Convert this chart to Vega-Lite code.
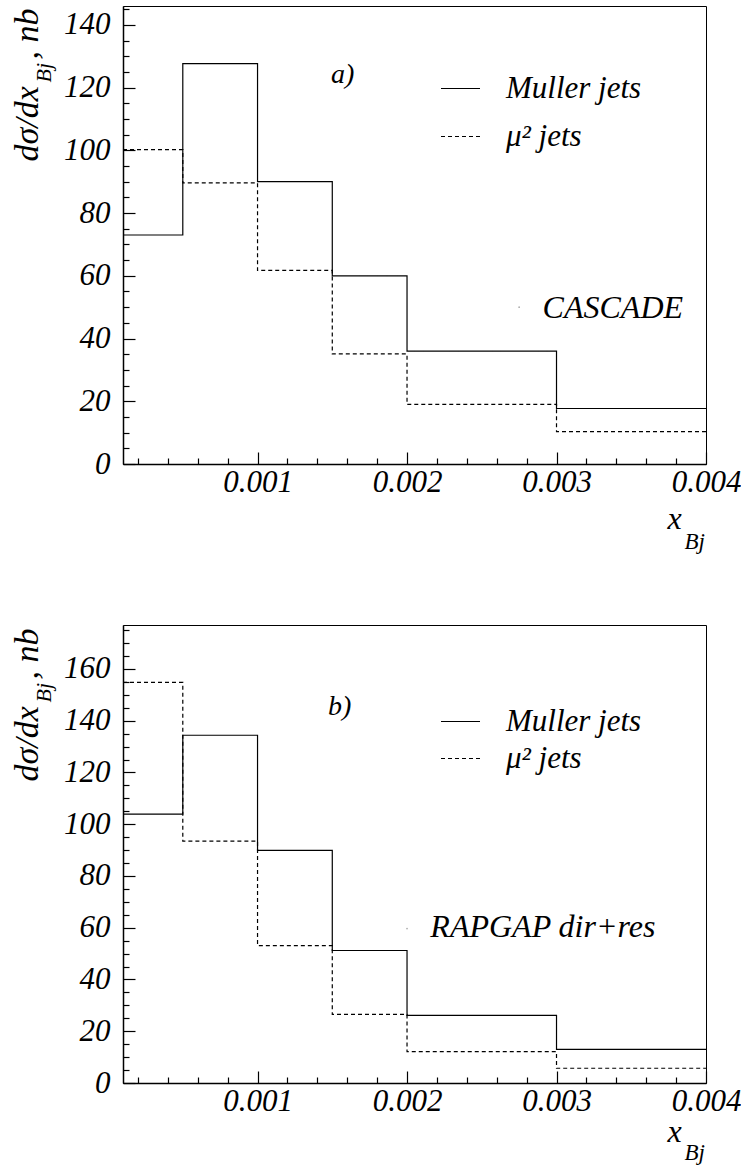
{
  "$schema": "https://vega.github.io/schema/vega-lite/v6.json",
  "padding": {"left": 9, "top": 5, "right": 2, "bottom": 2},
  "background": "white",
  "config": {
    "view": {"stroke": "black", "strokeWidth": 1},
    "font": "Liberation Serif",
    "text": {"font": "Liberation Serif", "fontStyle": "italic", "color": "black"},
    "axis": {
      "grid": false,
      "labelFont": "Liberation Serif", "labelFontStyle": "italic", "labelFontSize": 31, "labelColor": "black",
      "titleFont": "Liberation Serif", "titleFontStyle": "italic", "titleFontWeight": "normal", "titleColor": "black",
      "domainColor": "black", "domainWidth": 1.5, "tickColor": "black", "tickWidth": 1.2,
      "labelOverlap": false, "labelBound": false, "labelFlush": false
    },
    "legend": {
      "orient": "none", "title": null, "padding": 0, "symbolType": "stroke", "symbolSize": 1521,
      "symbolStrokeColor": "black", "symbolStrokeWidth": 1.2,
      "labelFont": "Liberation Serif", "labelFontStyle": "italic", "labelFontSize": 31, "labelColor": "black",
      "labelOffset": 25
    }
  },
  "datasets": {
    "top": [
      {"x": 0.0001, "v": 73.0, "series": "Muller jets"},
      {"x": 0.0005, "v": 127.6, "series": "Muller jets"},
      {"x": 0.001, "v": 90.0, "series": "Muller jets"},
      {"x": 0.0015, "v": 60.0, "series": "Muller jets"},
      {"x": 0.002, "v": 36.0, "series": "Muller jets"},
      {"x": 0.003, "v": 17.7, "series": "Muller jets"},
      {"x": 0.004, "v": 17.7, "series": "Muller jets"},
      {"x": 0.0001, "v": 100.2, "series": "μ² jets"},
      {"x": 0.0005, "v": 89.6, "series": "μ² jets"},
      {"x": 0.001, "v": 61.7, "series": "μ² jets"},
      {"x": 0.0015, "v": 35.1, "series": "μ² jets"},
      {"x": 0.002, "v": 19.0, "series": "μ² jets"},
      {"x": 0.003, "v": 10.3, "series": "μ² jets"},
      {"x": 0.004, "v": 10.3, "series": "μ² jets"}
    ],
    "bottom": [
      {"x": 0.0001, "v": 103.9, "series": "Muller jets"},
      {"x": 0.0005, "v": 134.4, "series": "Muller jets"},
      {"x": 0.001, "v": 89.9, "series": "Muller jets"},
      {"x": 0.0015, "v": 51.2, "series": "Muller jets"},
      {"x": 0.002, "v": 26.1, "series": "Muller jets"},
      {"x": 0.003, "v": 13.0, "series": "Muller jets"},
      {"x": 0.004, "v": 13.0, "series": "Muller jets"},
      {"x": 0.0001, "v": 154.8, "series": "μ² jets"},
      {"x": 0.0005, "v": 93.5, "series": "μ² jets"},
      {"x": 0.001, "v": 53.1, "series": "μ² jets"},
      {"x": 0.0015, "v": 26.5, "series": "μ² jets"},
      {"x": 0.002, "v": 12.1, "series": "μ² jets"},
      {"x": 0.003, "v": 5.7, "series": "μ² jets"},
      {"x": 0.004, "v": 5.7, "series": "μ² jets"}
    ],
    "notes": [
      {"panel": "a", "kind": "tag", "label": "a)", "x": 0.00157, "y": 124.0},
      {"panel": "a", "kind": "gen", "label": "CASCADE", "x": 0.002907, "y": 46.4},
      {"panel": "a", "kind": "dot", "label": "", "x": 0.00275, "y": 50.0},
      {"panel": "b", "kind": "tag", "label": "b)", "x": 0.00155, "y": 145.4},
      {"panel": "b", "kind": "gen", "label": "RAPGAP dir+res", "x": 0.002156, "y": 56.3},
      {"panel": "b", "kind": "dot", "label": "", "x": 0.0020, "y": 59.7}
    ]
  },
  "vconcat": [
    {
      "width": 583, "height": 458,
      "layer": [
        {
          "data": {"name": "top"},
          "mark": {"type": "line", "interpolate": "step-after", "color": "black", "strokeWidth": 1.2},
          "encoding": {
            "x": {"field": "x", "type": "quantitative",
              "scale": {"domain": [0.0001, 0.004], "nice": false, "zero": false},
              "axis": {"orient": "bottom", "values": [0.001, 0.002, 0.003, 0.004], "format": ".3f",
                "tickSize": -12, "labelPadding": 15,
                "title": "x", "titleX": 544, "titleY": 64, "titleAlign": "left", "titleBaseline": "alphabetic", "titleAngle": 0, "titleFontSize": 32}},
            "y": {"field": "v", "type": "quantitative",
              "scale": {"domain": [0, 146], "nice": false},
              "axis": {"orient": "left", "values": [0, 20, 40, 60, 80, 100, 120, 140],
                "tickSize": -12, "labelPadding": 25,
                "title": "dσ/dx", "titleX": -86, "titleY": 155, "titleAngle": -90, "titleAlign": "left", "titleBaseline": "alphabetic", "titleFontSize": 34}},
            "strokeDash": {"field": "series", "type": "nominal",
              "scale": {"domain": ["Muller jets", "μ² jets"], "range": [[1, 0], [4, 3]]},
              "legend": {"legendX": 317, "legendY": 62, "rowPadding": 12}}
          }
        },
        {
          "data": {"name": "notes"},
          "transform": [{"filter": "datum.panel === 'a' && datum.kind === 'tag'"}],
          "mark": {"type": "text", "fontSize": 28, "align": "center", "baseline": "middle"},
          "encoding": {
            "x": {"field": "x", "type": "quantitative",
              "axis": {"orient": "bottom", "domain": false, "ticks": false, "labels": false,
                "title": "Bj", "titleX": 561, "titleY": 84, "titleAlign": "left", "titleBaseline": "alphabetic", "titleAngle": 0, "titleFontSize": 23}},
            "y": {"field": "y", "type": "quantitative",
              "axis": {"orient": "left", "domain": false, "ticks": false, "labels": false,
                "title": "Bj", "titleX": -73, "titleY": 76, "titleAngle": -90, "titleAlign": "left", "titleBaseline": "alphabetic", "titleFontSize": 22}},
            "text": {"field": "label"}
          }
        },
        {
          "data": {"name": "notes"},
          "transform": [{"filter": "datum.panel === 'a' && datum.kind === 'gen'"}],
          "mark": {"type": "text", "fontSize": 32, "align": "left", "baseline": "alphabetic"},
          "encoding": {
            "x": {"field": "x", "type": "quantitative", "axis": null},
            "y": {"field": "y", "type": "quantitative",
              "axis": {"orient": "left", "domain": false, "ticks": false, "labels": false,
                "title": ", nb", "titleX": -86, "titleY": 53, "titleAngle": -90, "titleAlign": "left", "titleBaseline": "alphabetic", "titleFontSize": 34}},
            "text": {"field": "label"}
          }
        },
        {
          "data": {"name": "notes"},
          "transform": [{"filter": "datum.panel === 'a' && datum.kind === 'dot'"}],
          "mark": {"type": "point", "filled": true, "size": 3, "color": "#888888"},
          "encoding": {
            "x": {"field": "x", "type": "quantitative",
              "axis": {"orient": "bottom", "domain": false, "labels": false, "title": null, "tickSize": -6,
                "values": [0.0002,0.0004,0.0006,0.0008,0.0012,0.0014,0.0016,0.0018,0.0022,0.0024,0.0026,0.0028,0.0032,0.0034,0.0036,0.0038]}},
            "y": {"field": "y", "type": "quantitative",
              "axis": {"orient": "left", "domain": false, "labels": false, "title": null, "tickSize": -6,
                "values": [5,10,15,25,30,35,45,50,55,65,70,75,85,90,95,105,110,115,125,130,135,145]}}
          }
        }
      ],
      "resolve": {"axis": {"x": "independent", "y": "independent"}}
    },
    {
      "width": 583, "height": 458,
      "layer": [
        {
          "data": {"name": "bottom"},
          "mark": {"type": "line", "interpolate": "step-after", "color": "black", "strokeWidth": 1.2},
          "encoding": {
            "x": {"field": "x", "type": "quantitative",
              "scale": {"domain": [0.0001, 0.004], "nice": false, "zero": false},
              "axis": {"orient": "bottom", "values": [0.001, 0.002, 0.003, 0.004], "format": ".3f",
                "tickSize": -12, "labelPadding": 15,
                "title": "x", "titleX": 544, "titleY": 58, "titleAlign": "left", "titleBaseline": "alphabetic", "titleAngle": 0, "titleFontSize": 32}},
            "y": {"field": "v", "type": "quantitative",
              "scale": {"domain": [0, 177], "nice": false},
              "axis": {"orient": "left", "values": [0, 20, 40, 60, 80, 100, 120, 140, 160],
                "tickSize": -12, "labelPadding": 25,
                "title": "dσ/dx", "titleX": -86, "titleY": 156, "titleAngle": -90, "titleAlign": "left", "titleBaseline": "alphabetic", "titleFontSize": 34}},
            "strokeDash": {"field": "series", "type": "nominal",
              "scale": {"domain": ["Muller jets", "μ² jets"], "range": [[1, 0], [4, 3]]},
              "legend": {"legendX": 317, "legendY": 76, "rowPadding": 1}}
          }
        },
        {
          "data": {"name": "notes"},
          "transform": [{"filter": "datum.panel === 'b' && datum.kind === 'tag'"}],
          "mark": {"type": "text", "fontSize": 28, "align": "center", "baseline": "middle"},
          "encoding": {
            "x": {"field": "x", "type": "quantitative",
              "axis": {"orient": "bottom", "domain": false, "ticks": false, "labels": false,
                "title": "Bj", "titleX": 561, "titleY": 76, "titleAlign": "left", "titleBaseline": "alphabetic", "titleAngle": 0, "titleFontSize": 23}},
            "y": {"field": "y", "type": "quantitative",
              "axis": {"orient": "left", "domain": false, "ticks": false, "labels": false,
                "title": "Bj", "titleX": -73, "titleY": 77, "titleAngle": -90, "titleAlign": "left", "titleBaseline": "alphabetic", "titleFontSize": 22}},
            "text": {"field": "label"}
          }
        },
        {
          "data": {"name": "notes"},
          "transform": [{"filter": "datum.panel === 'b' && datum.kind === 'gen'"}],
          "mark": {"type": "text", "fontSize": 32, "align": "left", "baseline": "alphabetic"},
          "encoding": {
            "x": {"field": "x", "type": "quantitative", "axis": null},
            "y": {"field": "y", "type": "quantitative",
              "axis": {"orient": "left", "domain": false, "ticks": false, "labels": false,
                "title": ", nb", "titleX": -86, "titleY": 54, "titleAngle": -90, "titleAlign": "left", "titleBaseline": "alphabetic", "titleFontSize": 34}},
            "text": {"field": "label"}
          }
        },
        {
          "data": {"name": "notes"},
          "transform": [{"filter": "datum.panel === 'b' && datum.kind === 'dot'"}],
          "mark": {"type": "point", "filled": true, "size": 3, "color": "#888888"},
          "encoding": {
            "x": {"field": "x", "type": "quantitative",
              "axis": {"orient": "bottom", "domain": false, "labels": false, "title": null, "tickSize": -6,
                "values": [0.0002,0.0004,0.0006,0.0008,0.0012,0.0014,0.0016,0.0018,0.0022,0.0024,0.0026,0.0028,0.0032,0.0034,0.0036,0.0038]}},
            "y": {"field": "y", "type": "quantitative",
              "axis": {"orient": "left", "domain": false, "labels": false, "title": null, "tickSize": -6,
                "values": [5,10,15,25,30,35,45,50,55,65,70,75,85,90,95,105,110,115,125,130,135,145,150,155,165,170,175]}}
          }
        }
      ],
      "resolve": {"axis": {"x": "independent", "y": "independent"}}
    }
  ],
  "spacing": 161,
  "bounds": "flush",
  "resolve": {"scale": {"x": "independent", "y": "independent", "strokeDash": "independent"}, "legend": {"strokeDash": "independent"}}
}
